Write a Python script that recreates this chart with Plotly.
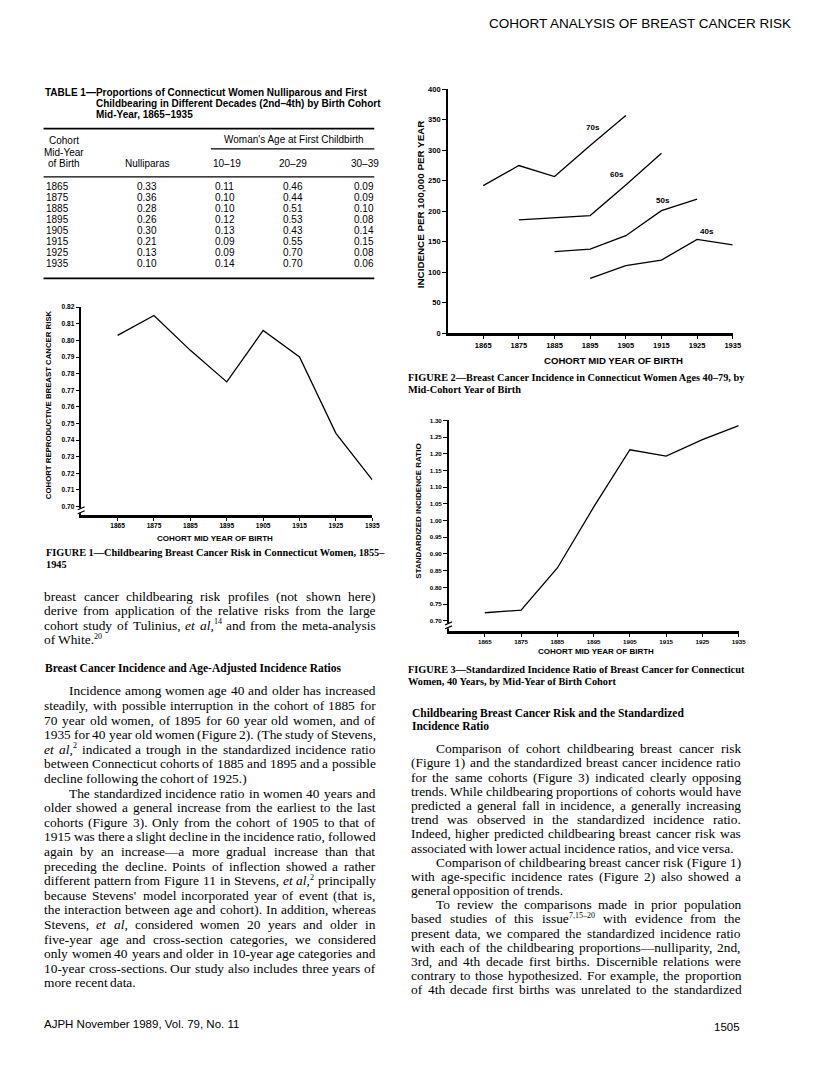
import re
import plotly.graph_objects as go

W, H = 816, 1092


def X(px):
    return px / W


def Y(py):
    return 1 - py / H


SANS = "Liberation Sans"
SERIF = "Liberation Serif"

# ---------------- data ----------------
cohort_years = [1865, 1875, 1885, 1895, 1905, 1915, 1925, 1935]
year_labels = [str(v) for v in cohort_years]

# Table 1
nulliparas = [0.33, 0.36, 0.28, 0.26, 0.30, 0.21, 0.13, 0.10]
first_birth_10_19 = [0.11, 0.10, 0.10, 0.12, 0.13, 0.09, 0.09, 0.14]
first_birth_20_29 = [0.46, 0.44, 0.51, 0.53, 0.43, 0.55, 0.70, 0.70]
first_birth_30_39 = [0.09, 0.09, 0.10, 0.08, 0.14, 0.15, 0.08, 0.06]

# Figure 1
repro_risk = [0.803, 0.815, 0.794, 0.775, 0.806, 0.790, 0.744, 0.716]
fig1_yticks = [0.70, 0.71, 0.72, 0.73, 0.74, 0.75, 0.76, 0.77, 0.78, 0.79, 0.80, 0.81, 0.82]

# Figure 2
years_70s = [1865, 1875, 1885, 1895, 1905]
inc_70s = [242, 275, 257, 308, 357]
years_60s = [1875, 1885, 1895, 1905, 1915]
inc_60s = [186, 189, 193, 243, 295]
years_50s = [1885, 1895, 1905, 1915, 1925]
inc_50s = [134, 138, 160, 201, 220]
years_40s = [1895, 1905, 1915, 1925, 1935]
inc_40s = [90, 111, 120, 154, 145]
fig2_yticks = [0, 50, 100, 150, 200, 250, 300, 350, 400]

# Figure 3
sir = [0.724, 0.732, 0.858, 1.040, 1.212, 1.193, 1.242, 1.284]
fig3_yticks = [0.70, 0.75, 0.80, 0.85, 0.90, 0.95, 1.00, 1.05, 1.10, 1.15, 1.20, 1.25, 1.30]

# ---------------- figure ----------------
fig = go.Figure()
LINE = dict(color="black", width=1.3)

fig.add_trace(go.Scatter(x=cohort_years, y=repro_risk, mode="lines", line=LINE,
                         xaxis="x", yaxis="y", showlegend=False, hoverinfo="skip"))
for yrs, vals in [(years_70s, inc_70s), (years_60s, inc_60s),
                  (years_50s, inc_50s), (years_40s, inc_40s)]:
    fig.add_trace(go.Scatter(x=yrs, y=vals, mode="lines", line=LINE,
                             xaxis="x2", yaxis="y2", showlegend=False, hoverinfo="skip"))
fig.add_trace(go.Scatter(x=cohort_years, y=sir, mode="lines", line=LINE,
                         xaxis="x3", yaxis="y3", showlegend=False, hoverinfo="skip"))


def xax(dom, anchor, size, ticks="outside", labels=True, overlay=None):
    d = dict(domain=dom, range=[1855, 1935], anchor=anchor, tickmode="array",
             tickvals=cohort_years, ticktext=year_labels, ticks=ticks, ticklen=3,
             tickwidth=1.2, tickcolor="black", showline=labels, linecolor="black",
             linewidth=2.6, showgrid=False, zeroline=False, showticklabels=labels,
             tickfont=dict(family=SANS, size=size, color="black", weight="bold"),
             fixedrange=True)
    if overlay:
        d["overlaying"] = overlay
        d.pop("domain")
    return d


def yax(dom, anchor, rng, tickvals, fmt, size, ticks="outside", labels=True, overlay=None):
    d = dict(domain=dom, range=rng, anchor=anchor, tickmode="array", tickvals=tickvals,
             ticks=ticks, ticklen=3.5, tickwidth=1.2, tickcolor="black", showline=labels,
             linecolor="black", linewidth=2.0, showgrid=False, zeroline=False,
             showticklabels=labels, tickformat=fmt,
             tickfont=dict(family=SANS, size=size, color="black", weight="bold"),
             fixedrange=True)
    if overlay:
        d["overlaying"] = overlay
        d.pop("domain")
    return d


d1x = [X(82), X(376)]
d1y = [Y(515), Y(305.7)]
d2x = [X(452), X(740)]
d2y = [Y(332), Y(86)]
d3x = [X(453), X(746)]
d3y = [Y(632), Y(419.8)]
r1 = [0.695, 0.82]
r2 = [0, 400]
r3 = [0.670, 1.30]

fig.update_layout(
    width=W, height=H, autosize=False,
    margin=dict(l=0, r=0, t=0, b=0),
    paper_bgcolor="white", plot_bgcolor="rgba(0,0,0,0)",
    showlegend=False,
    xaxis=xax(d1x, "y", 6.6),
    yaxis=yax(d1y, "x", r1, fig1_yticks, ".2f", 6.6),
    xaxis2=xax(d2x, "y2", 7.5),
    yaxis2=yax(d2y, "x2", r2, fig2_yticks, "d", 7.5),
    xaxis3=xax(d3x, "y3", 6.2),
    yaxis3=yax(d3y, "x3", r3, fig3_yticks, ".2f", 6.2),
    # overlay axes supplying the inner half of the crossing tick marks
    xaxis4=xax(d1x, "y", 6.6, ticks="inside", labels=False, overlay="x"),
    yaxis4=yax(d1y, "x", r1, fig1_yticks, ".2f", 6.6, ticks="inside", labels=False, overlay="y"),
    xaxis5=xax(d2x, "y2", 7.5, ticks="inside", labels=False, overlay="x2"),
    yaxis5=yax(d2y, "x2", r2, fig2_yticks, "d", 7.5, ticks="inside", labels=False, overlay="y2"),
    xaxis6=xax(d3x, "y3", 6.2, ticks="inside", labels=False, overlay="x3"),
    yaxis6=yax(d3y, "x3", r3, fig3_yticks, ".2f", 6.2, ticks="inside", labels=False, overlay="y3"),
)

ann = []


def txt(px, py, s, size, family=SERIF, anchor="left", angle=0, pad=True, yanchor="middle"):
    a = dict(x=X(px), y=Y(py), xref="paper", yref="paper", text=s, showarrow=False,
             xanchor=anchor, yanchor=yanchor, textangle=angle,
             font=dict(family=family, size=size, color="black"))
    if not pad:
        a["borderpad"] = 0
        a["borderwidth"] = 0
    return a


# header
ann.append(txt(801, 20, "COHORT ANALYSIS OF BREAST CANCER RISK", 13.5, SANS, "right"))

# ---------------- Table 1 ----------------
ann.append(txt(43, 89.3, "<b>TABLE 1—Proportions of Connecticut Women Nulliparous and First</b>", 10, SANS))
ann.append(txt(95, 100, "<b>Childbearing in Different Decades (2nd–4th) by Birth Cohort</b>", 10, SANS))
ann.append(txt(95, 111, "<b>Mid-Year, 1865–1935</b>", 10, SANS))
ann.append(txt(296.5, 137, "Woman's Age at First Childbirth", 10, SANS, "center"))
ann.append(txt(64.5, 138, "Cohort", 10, SANS, "center"))
ann.append(txt(64.5, 149.5, "Mid-Year", 10, SANS, "center"))
ann.append(txt(64.5, 161, "of Birth", 10, SANS, "center"))
ann.append(txt(148, 161, "Nulliparas", 10, SANS, "center"))
ann.append(txt(229, 161, "10–19", 10, SANS, "center"))
ann.append(txt(296, 161, "20–29", 10, SANS, "center"))
ann.append(txt(369, 161, "30–39", 10, SANS, "center"))
for i, yr in enumerate(cohort_years):
    ry = 184 + 11.05 * i
    ann.append(txt(44, ry, str(yr), 10, SANS, "left"))
    ann.append(txt(148, ry, f"{nulliparas[i]:.2f}", 10, SANS, "center"))
    ann.append(txt(227, ry, f"{first_birth_10_19[i]:.2f}", 10, SANS, "center"))
    ann.append(txt(296, ry, f"{first_birth_20_29[i]:.2f}", 10, SANS, "center"))
    ann.append(txt(368, ry, f"{first_birth_30_39[i]:.2f}", 10, SANS, "center"))

shapes = []


def hline(x0, x1, py, w):
    shapes.append(dict(type="line", xref="paper", yref="paper", x0=X(x0), x1=X(x1),
                       y0=Y(py), y1=Y(py), line=dict(color="black", width=w)))


hline(44, 378, 125.7, 1.6)
hline(213, 378, 146, 1.2)
hline(44, 378, 174.3, 1.2)
hline(44, 378, 276.7, 1.6)


def axis_break(px, py):
    shapes.append(dict(type="rect", xref="paper", yref="paper", x0=X(px - 2.5), x1=X(px + 2.5),
                       y0=Y(py + 2.5), y1=Y(py - 2.5), fillcolor="white",
                       line=dict(width=0)))
    path = (f"M {X(px-3.5)},{Y(py-1)} L {X(px+3.5)},{Y(py-4)} "
            f"M {X(px-3.5)},{Y(py+3)} L {X(px+3.5)},{Y(py)}")
    shapes.append(dict(type="path", xref="paper", yref="paper", path=path,
                       line=dict(color="black", width=1.2)))


axis_break(82, 511)
axis_break(453, 627)

# ---------------- axis titles & captions ----------------
CAP = 10.3
HEAD = 11.5
ann.append(txt(49, 404, "<b>COHORT REPRODUCTIVE BREAST CANCER RISK</b>", 7.8, SANS, "center", -90))
ann.append(txt(217, 539, "<b>COHORT MID YEAR OF BIRTH</b>", 8, SANS, "center"))
ann.append(txt(44, 552.7, "<b>FIGURE 1—Childbearing Breast Cancer Risk in Connecticut Women, 1855–</b>", CAP, SERIF))
ann.append(txt(44, 565, "<b>1945</b>", CAP, SERIF))

ann.append(txt(424, 202, "<b>INCIDENCE PER 100,000 PER YEAR</b>", 9.8, SANS, "center", -90))
ann.append(txt(620, 359, "<b>COHORT MID YEAR OF BIRTH</b>", 9.6, SANS, "center"))
ann.append(txt(410, 377, "<b>FIGURE 2—Breast Cancer Incidence in Connecticut Women Ages 40–79, by</b>", CAP, SERIF))
ann.append(txt(410, 388.5, "<b>Mid-Cohort Year of Birth</b>", CAP, SERIF))

ann.append(txt(423, 511, "<b>STANDARDIZED INCIDENCE RATIO</b>", 8, SANS, "center", -90))
ann.append(txt(602, 653, "<b>COHORT MID YEAR OF BIRTH</b>", 8, SANS, "center"))
ann.append(txt(410, 671, "<b>FIGURE 3—Standardized Incidence Ratio of Breast Cancer for Connecticut</b>", CAP, SERIF))
ann.append(txt(410, 683, "<b>Women, 40 Years, by Mid-Year of Birth Cohort</b>", CAP, SERIF))

for lab, lx, ly in [("70s", 1895.8, 338), ("60s", 1902.5, 260), ("50s", 1915.3, 218), ("40s", 1927.8, 167.5)]:
    ann.append(dict(x=lx, y=ly, xref="x2", yref="y2", text=f"<b>{lab}</b>", showarrow=False,
                    xanchor="center", yanchor="middle",
                    font=dict(family=SANS, size=8, color="black")))

# ---------------- body text (justified word by word) ----------------
BODY = 13.4
SUP = 0.6 * BODY
ROMAN = {' ': 250, '!': 333, '(': 333, ')': 333, ',': 250, '-': 333, '.': 250, '/': 278,
         ':': 278, ';': 278, "'": 333, '?': 444, '—': 1000, '–': 500,
         'A': 722, 'B': 667, 'C': 667, 'D': 722, 'E': 611, 'F': 556, 'G': 722, 'H': 722,
         'I': 333, 'J': 389, 'K': 722, 'L': 611, 'M': 889, 'N': 722, 'O': 722, 'P': 556,
         'Q': 722, 'R': 667, 'S': 556, 'T': 611, 'U': 722, 'V': 722, 'W': 944, 'X': 722,
         'Y': 722, 'Z': 611, 'a': 444, 'b': 500, 'c': 444, 'd': 500, 'e': 444, 'f': 333,
         'g': 500, 'h': 500, 'i': 278, 'j': 278, 'k': 500, 'l': 278, 'm': 778, 'n': 500,
         'o': 500, 'p': 500, 'q': 500, 'r': 333, 's': 389, 't': 278, 'u': 500, 'v': 500,
         'w': 722, 'x': 500, 'y': 500, 'z': 444}
ITALIC = dict(ROMAN, a=500, f=278, k=444, m=722, r=389, v=444, w=667, x=444, y=444, z=389)


def width(tok, size=BODY):
    total = 0.0
    ital = False
    for part in re.split(r"(<[^>]+>)", tok):
        if part.startswith("<"):
            ital = part == "<i>" if part in ("<i>", "</i>") else ital
            continue
        table = ITALIC if ital else ROMAN
        for ch in part:
            total += 500 if ch.isdigit() else table.get(ch, 500)
    return total / 1000 * size


def split_sup(tok):
    m = re.match(r"^(.*?)<sup>(.*?)</sup>$", tok)
    if m:
        return m.group(1), m.group(2)
    return tok, ""


def place_word(x, py, tok):
    base, sup = split_sup(tok)
    ann.append(txt(x, py, base, BODY, SERIF, "left", pad=False))
    if sup:
        ann.append(txt(x + width(base) + 0.3, py - 3.6, sup, SUP, SERIF, "left", pad=False))


def paragraph(lines, left, indent, right, y0, step):
    """lines: list of (starts_paragraph, ends_paragraph, text)."""
    for i, (first, last, s) in enumerate(lines):
        py = y0 + step * i
        lx = left + (indent if first else 0)
        words = s.split(" ")
        ws = []
        for w in words:
            b, sp = split_sup(w)
            ws.append(width(b) + width(sp, SUP))
        if last:
            gap = 0.25 * BODY
        else:
            gap = (right - lx - sum(ws)) / max(len(words) - 1, 1)
            gap = max(gap, 0.15 * BODY)
        x = lx
        for w, wd in zip(words, ws):
            place_word(x, py, w)
            x += wd + gap


left_block1 = [
    (False, False, "breast cancer childbearing risk profiles (not shown here)"),
    (False, False, "derive from application of the relative risks from the large"),
    (False, False, "cohort study of Tulinius, <i>et</i> <i>al,</i><sup>14</sup> and from the meta-analysis"),
    (False, True, "of White.<sup>20</sup>"),
]
paragraph(left_block1, 44.5, 25, 379, 597, 14.67)

ann.append(txt(43, 670, "<b>Breast Cancer Incidence and Age-Adjusted Incidence Ratios</b>", HEAD, SERIF))

left_block2 = [
    (True, False, "Incidence among women age 40 and older has increased"),
    (False, False, "steadily, with possible interruption in the cohort of 1885 for"),
    (False, False, "70 year old women, of 1895 for 60 year old women, and of"),
    (False, False, "1935 for 40 year old women (Figure 2). (The study of Stevens,"),
    (False, False, "<i>et</i> <i>al,</i><sup>2</sup> indicated a trough in the standardized incidence ratio"),
    (False, False, "between Connecticut cohorts of 1885 and 1895 and a possible"),
    (False, True, "decline following the cohort of 1925.)"),
    (True, False, "The standardized incidence ratio in women 40 years and"),
    (False, False, "older showed a general increase from the earliest to the last"),
    (False, False, "cohorts (Figure 3). Only from the cohort of 1905 to that of"),
    (False, False, "1915 was there a slight decline in the incidence ratio, followed"),
    (False, False, "again by an increase—a more gradual increase than that"),
    (False, False, "preceding the decline. Points of inflection showed a rather"),
    (False, False, "different pattern from Figure 11 in Stevens, <i>et</i> <i>al,</i><sup>2</sup> principally"),
    (False, False, "because Stevens' model incorporated year of event (that is,"),
    (False, False, "the interaction between age and cohort). In addition, whereas"),
    (False, False, "Stevens, <i>et</i> <i>al,</i> considered women 20 years and older in"),
    (False, False, "five-year age and cross-section categories, we considered"),
    (False, False, "only women 40 years and older in 10-year age categories and"),
    (False, False, "10-year cross-sections. Our study also includes three years of"),
    (False, True, "more recent data."),
]
paragraph(left_block2, 44.5, 25, 379, 692.7, 14.72)

ann.append(txt(414, 715, "<b>Childbearing Breast Cancer Risk and the Standardized</b>", HEAD, SERIF))
ann.append(txt(414, 728, "<b>Incidence Ratio</b>", HEAD, SERIF))

right_block = [
    (True, False, "Comparison of cohort childbearing breast cancer risk"),
    (False, False, "(Figure 1) and the standardized breast cancer incidence ratio"),
    (False, False, "for the same cohorts (Figure 3) indicated clearly opposing"),
    (False, False, "trends. While childbearing proportions of cohorts would have"),
    (False, False, "predicted a general fall in incidence, a generally increasing"),
    (False, False, "trend was observed in the standardized incidence ratio."),
    (False, False, "Indeed, higher predicted childbearing breast cancer risk was"),
    (False, True, "associated with lower actual incidence ratios, and vice versa."),
    (True, False, "Comparison of childbearing breast cancer risk (Figure 1)"),
    (False, False, "with age-specific incidence rates (Figure 2) also showed a"),
    (False, True, "general opposition of trends."),
    (True, False, "To review the comparisons made in prior population"),
    (False, False, "based studies of this issue<sup>7,15–20</sup> with evidence from the"),
    (False, False, "present data, we compared the standardized incidence ratio"),
    (False, False, "with each of the childbearing proportions—nulliparity, 2nd,"),
    (False, False, "3rd, and 4th decade first births. Discernible relations were"),
    (False, False, "contrary to those hypothesized. For example, the proportion"),
    (False, False, "of 4th decade first births was unrelated to the standardized"),
]
paragraph(right_block, 415, 25, 748, 751, 14.3)

# footer
ann.append(txt(42, 1028, "AJPH November 1989, Vol. 79, No. 11", 11.5, SANS))
ann.append(txt(749, 1032, "1505", 11.5, SANS, "right"))

fig.update_layout(annotations=ann, shapes=shapes)

fig.write_html("out.html", config={"displayModeBar": False},
               post_script="document.body.style.margin='0px';")
